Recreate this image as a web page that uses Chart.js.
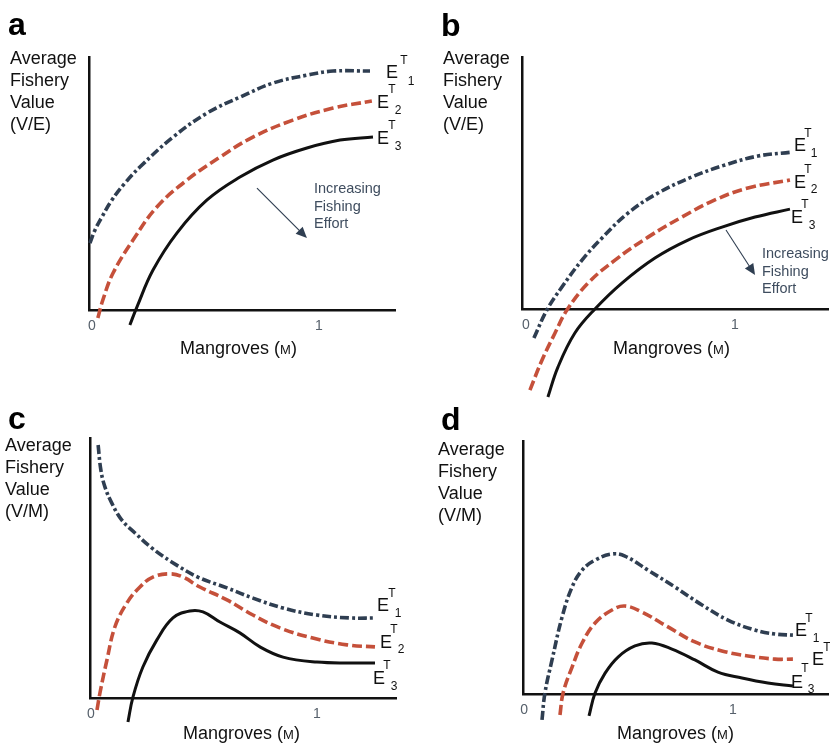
<!DOCTYPE html>
<html><head><meta charset="utf-8">
<script src="https://cdn.jsdelivr.net/npm/chart.js@4.4.1/dist/chart.umd.min.js"></script>
<style>
html,body{margin:0;padding:0;background:#fff;}
body{width:830px;height:745px;position:relative;overflow:hidden;font-family:"Liberation Sans",Arial,sans-serif;color:#111;}
canvas{position:absolute;}
.t{position:absolute;white-space:nowrap;}
.letter{font-weight:bold;font-size:32px;line-height:32px;color:#000;}
.ylab{font-size:18px;line-height:22px;}
.xlab{font-size:18px;line-height:22px;}
.xlab .m{font-size:13px;}
.note{font-size:14.5px;line-height:17.5px;color:#3f4d5f;}
.c{transform:translate(-50%,-50%);}
.E{font-size:18px;line-height:18px;}
.s{font-size:12px;line-height:12px;}
</style></head>
<body>
<canvas id="ca" width="415" height="400" style="left:0;top:0"></canvas>
<canvas id="cb" width="415" height="400" style="left:415px;top:0"></canvas>
<canvas id="cc" width="415" height="345" style="left:0;top:400px"></canvas>
<canvas id="cd" width="415" height="345" style="left:415px;top:400px"></canvas>
<div id="txt"></div>
<script>
// ---- shared ticks ----
const tickValues = [0, 1];
const tickLabels = ['0', '1'];
const seriesNames = ['E1', 'E2', 'E3'];

// ---- panel a : V/E ----
const aE1x = [-0.009, 0.013, 0.044, 0.088, 0.145, 0.211, 0.357, 0.507, 0.652, 0.797, 0.947, 1.062, 1.225];
const aE1y = [0.295, 0.352, 0.410, 0.485, 0.559, 0.630, 0.762, 0.868, 0.938, 1.000, 1.035, 1.053, 1.053];
const aE2x = [0.026, 0.048, 0.093, 0.181, 0.286, 0.419, 0.564, 0.709, 0.885, 1.062, 1.233];
const aE2y = [-0.035, 0.044, 0.163, 0.308, 0.454, 0.573, 0.674, 0.762, 0.837, 0.890, 0.921];
const aE3x = [0.167, 0.198, 0.269, 0.374, 0.507, 0.652, 0.797, 0.947, 1.093, 1.238];
const aE3y = [-0.066, 0.013, 0.176, 0.339, 0.485, 0.586, 0.661, 0.714, 0.749, 0.762];
const aArrow = [0.727, 0.537, 0.947, 0.317];

// ---- panel b : V/E ----
const bE1x = [0.038, 0.100, 0.172, 0.268, 0.364, 0.488, 0.632, 0.794, 0.952, 1.110, 1.273];
const bE1y = [-0.139, -0.005, 0.105, 0.234, 0.340, 0.459, 0.555, 0.632, 0.689, 0.732, 0.751];
const bE2x = [0.019, 0.077, 0.139, 0.196, 0.297, 0.426, 0.584, 0.746, 0.904, 1.062, 1.263];
const bE2y = [-0.388, -0.244, -0.115, -0.005, 0.124, 0.234, 0.344, 0.440, 0.522, 0.579, 0.617];
const bE3x = [0.105, 0.153, 0.234, 0.330, 0.459, 0.617, 0.775, 0.938, 1.096, 1.263];
const bE3y = [-0.421, -0.278, -0.115, 0.000, 0.124, 0.244, 0.330, 0.392, 0.440, 0.478];
const bArrow = [0.957, 0.378, 1.096, 0.163];

// ---- panel c : V/M ----
const cE1x = [0.032, 0.044, 0.062, 0.092, 0.136, 0.195, 0.269, 0.357, 0.473, 0.602, 0.717, 0.850, 1.000, 1.146, 1.257];
const cE1y = [1.119, 1.009, 0.934, 0.863, 0.788, 0.730, 0.664, 0.602, 0.535, 0.487, 0.442, 0.398, 0.367, 0.354, 0.354];
const cE2x = [0.027, 0.040, 0.071, 0.106, 0.159, 0.217, 0.274, 0.350, 0.407, 0.482, 0.602, 0.717, 0.836, 0.982, 1.133, 1.257];
const cE2y = [-0.053, 0.022, 0.168, 0.314, 0.420, 0.491, 0.535, 0.549, 0.535, 0.491, 0.434, 0.367, 0.310, 0.265, 0.235, 0.226];
const cE3x = [0.164, 0.186, 0.230, 0.292, 0.363, 0.438, 0.496, 0.571, 0.659, 0.748, 0.850, 1.000, 1.146, 1.257];
const cE3y = [-0.106, 0.004, 0.137, 0.257, 0.354, 0.385, 0.381, 0.336, 0.288, 0.226, 0.181, 0.159, 0.155, 0.155];

// ---- panel d : V/M ----
const dE1x = [0.086, 0.100, 0.134, 0.182, 0.230, 0.278, 0.340, 0.421, 0.483, 0.593, 0.722, 0.852, 0.976, 1.105, 1.201, 1.287];
const dE1y = [-0.124, 0.005, 0.163, 0.368, 0.512, 0.593, 0.641, 0.670, 0.660, 0.593, 0.512, 0.426, 0.354, 0.306, 0.287, 0.282];
const dE2x = [0.172, 0.187, 0.230, 0.278, 0.340, 0.421, 0.483, 0.565, 0.689, 0.818, 0.947, 1.072, 1.201, 1.287];
const dE2y = [-0.100, 0.005, 0.129, 0.244, 0.340, 0.402, 0.421, 0.392, 0.321, 0.249, 0.206, 0.182, 0.167, 0.167];
const dE3x = [0.311, 0.340, 0.388, 0.450, 0.531, 0.612, 0.708, 0.818, 0.928, 1.043, 1.167, 1.287];
const dE3y = [-0.105, 0.005, 0.100, 0.177, 0.230, 0.244, 0.215, 0.163, 0.105, 0.077, 0.053, 0.038];

// ---- styles ----
const styles = [
  {color: '#2f3e51', width: 3.6, dash: [9, 3, 3, 3]},
  {color: '#c5503a', width: 3.6, dash: [10, 4]},
  {color: '#111111', width: 3, dash: []}
];
const FONT = '"Liberation Sans", Arial, sans-serif';

const arrowPlugin = {
  id: 'effortArrow',
  afterDatasetsDraw(chart) {
    const a = chart.options.plugins.effortArrow;
    if (!a || !a.pts) return;
    const xs = chart.scales.x, ys = chart.scales.y;
    const x1 = xs.getPixelForValue(a.pts[0]), y1 = ys.getPixelForValue(a.pts[1]);
    const x2 = xs.getPixelForValue(a.pts[2]), y2 = ys.getPixelForValue(a.pts[3]);
    const ang = Math.atan2(y2 - y1, x2 - x1), L = 11, W = 5;
    const ctx = chart.ctx;
    ctx.save();
    ctx.strokeStyle = '#2f3e51'; ctx.fillStyle = '#2f3e51'; ctx.lineWidth = 1.1;
    ctx.beginPath(); ctx.moveTo(x1, y1);
    ctx.lineTo(x2 - L * Math.cos(ang) * 0.7, y2 - L * Math.sin(ang) * 0.7); ctx.stroke();
    ctx.beginPath(); ctx.moveTo(x2, y2);
    ctx.lineTo(x2 - L * Math.cos(ang) + W * Math.sin(ang), y2 - L * Math.sin(ang) - W * Math.cos(ang));
    ctx.lineTo(x2 - L * Math.cos(ang) - W * Math.sin(ang), y2 - L * Math.sin(ang) + W * Math.cos(ang));
    ctx.closePath(); ctx.fill();
    ctx.restore();
  }
};

function makeChart(id, series, cfg) {
  const datasets = series.map((s, i) => ({
    label: seriesNames[i],
    data: s[0].map((x, j) => ({x: x, y: s[1][j]})),
    borderColor: styles[i].color,
    borderWidth: styles[i].width,
    borderDash: styles[i].dash,
    borderCapStyle: 'butt',
    borderJoinStyle: 'round',
    pointRadius: 0,
    fill: false,
    tension: 0.4,
    clip: false
  }));
  return new Chart(document.getElementById(id), {
    type: 'line',
    data: {datasets},
    options: {
      responsive: false, animation: false, devicePixelRatio: 1,
      layout: {padding: cfg.pad},
      plugins: {legend: {display: false}, tooltip: {enabled: false}, effortArrow: {pts: cfg.arrow}},
      scales: {
        x: {
          type: 'linear', min: cfg.xr[0], max: cfg.xr[1],
          grid: {display: false, drawTicks: false},
          border: {display: true, width: 2.5, color: '#111'},
          afterBuildTicks: s => { s.ticks = tickValues.map(v => ({value: v})); },
          ticks: {padding: 8, color: '#56606b', font: {family: FONT, size: 14},
                  callback: v => tickLabels[tickValues.indexOf(v)]}
        },
        y: {
          type: 'linear', min: 0, max: cfg.ymax,
          grid: {display: false, drawTicks: false},
          border: {display: true, width: 2.5, color: '#111'},
          ticks: {display: false}
        }
      }
    },
    plugins: [arrowPlugin]
  });
}

makeChart('ca', [[aE1x, aE1y], [aE2x, aE2y], [aE3x, aE3y]],
  {pad: {left: 89, top: 57, right: 20, bottom: 57.2}, xr: [-0.013, 1.335], ymax: 1.115, arrow: aArrow});
makeChart('cb', [[bE1x, bE1y], [bE2x, bE2y], [bE3x, bE3y]],
  {pad: {left: 107, top: 57, right: 2, bottom: 58.2}, xr: [-0.019, 1.445], ymax: 1.206, arrow: bArrow});
makeChart('cc', [[cE1x, cE1y], [cE2x, cE2y], [cE3x, cE3y]],
  {pad: {left: 90, top: 38, right: 19, bottom: 14.2}, xr: [-0.004, 1.35], ymax: 1.15, arrow: null});
makeChart('cd', [[dE1x, dE1y], [dE2x, dE2y], [dE3x, dE3y]],
  {pad: {left: 108, top: 41, right: 2, bottom: 18.2}, xr: [-0.005, 1.455], ymax: 1.211, arrow: null});

// ---- text ----
const txt = document.getElementById('txt');
function add(html, cls, x, y) {
  const d = document.createElement('div');
  d.className = 't ' + cls; d.innerHTML = html;
  d.style.left = x + 'px'; d.style.top = y + 'px';
  txt.appendChild(d);
}
const letters = [['a', 8, 8], ['b', 441, 9], ['c', 8, 402], ['d', 441, 403]];
letters.forEach(l => add(l[0], 'letter', l[1], l[2]));
const ylabs = [['V/E', 10, 47], ['V/E', 443, 47], ['V/M', 5, 434], ['V/M', 438, 438]];
ylabs.forEach(l => add('Average<br>Fishery<br>Value<br>(' + l[0] + ')', 'ylab', l[1], l[2]));
const xlabs = [[180, 337], [613, 337], [183, 722], [617, 722]];
xlabs.forEach(l => add('Mangroves (<span class="m">M</span>)', 'xlab', l[0], l[1]));
add('Increasing<br>Fishing<br>Effort', 'note', 314, 180);
add('Increasing<br>Fishing<br>Effort', 'note', 762, 245);
// E^T_n labels: [E centre, T centre, subscript centre, subscript]
const eLabels = [
  [392, 72, 404, 60, 411, 81, '1'], [383, 102, 392, 89, 398, 110, '2'], [383, 138, 392, 125, 398, 146, '3'],
  [800, 145, 808, 133, 814, 153, '1'], [800, 182, 808, 169, 814, 189, '2'], [797, 217, 805, 204, 812, 225, '3'],
  [383, 605, 392, 593, 398, 613, '1'], [386, 642, 394, 629, 401, 649, '2'], [379, 678, 387, 665, 394, 686, '3'],
  [801, 630, 809, 618, 816, 638, '1'], [818, 659, 827, 647, null, null, ''], [797, 682, 805, 668, 811, 689, '3']
];
eLabels.forEach(e => {
  add('E', 'c E', e[0], e[1]);
  add('T', 'c s', e[2], e[3]);
  if (e[6]) add(e[6], 'c s', e[4], e[5]);
});
</script>
</body></html>
